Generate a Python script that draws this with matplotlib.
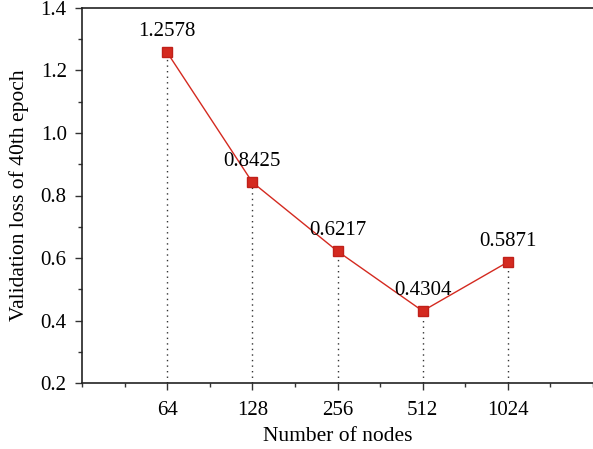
import numpy as np
import matplotlib.pyplot as plt
from matplotlib.ticker import MultipleLocator

nodes = ['64', '128', '256', '512', '1024']
loss = [1.2578, 0.8425, 0.6217, 0.4304, 0.5871]

plt.rcParams['font.family'] = 'Liberation Serif'
plt.rcParams['font.size'] = 15

fig = plt.figure(figsize=(5.93, 4.49), dpi=100)
ax = fig.add_axes([82/593, 1-383/449, 1-82/593, (383-8)/449])

x = np.arange(1, len(nodes)+1)
for xi, yi in zip(x, loss):
    ax.plot([xi, xi], [0.2, yi], linestyle=(0, (1, 3)), color='#333333', lw=1)
ax.plot(x, loss, '-s', color='#d42a20', lw=1, markersize=7, markeredgecolor='#c0201a')
for xi, yi in zip(x, loss):
    ax.annotate('%.4f' % yi, (xi, yi), xytext=(0, 8), textcoords='offset points',
                ha='center', va='bottom', fontsize=15)

ax.set_xlim(0, 6)
ax.set_ylim(0.2, 1.4)
ax.set_xticks(x)
ax.set_xticklabels(nodes)
ax.xaxis.set_minor_locator(MultipleLocator(0.5))
ax.yaxis.set_major_locator(MultipleLocator(0.2))
ax.yaxis.set_minor_locator(MultipleLocator(0.1))
ax.tick_params(which='major', direction='out', length=5, width=1, color='#333333', pad=6)
ax.tick_params(axis='x', which='major', pad=8)
ax.tick_params(which='minor', direction='out', length=3, width=1, color='#333333')
ax.spines['right'].set_visible(False)
for s in ['left', 'bottom', 'top']:
    ax.spines[s].set_color('#222222')
    ax.spines[s].set_linewidth(1.2)
ax.set_xlabel('Number of nodes', fontsize=15.5, labelpad=5)
ax.set_ylabel('Validation loss of 40th epoch', fontsize=15.5, labelpad=8)

plt.savefig('out.png', dpi=100)
